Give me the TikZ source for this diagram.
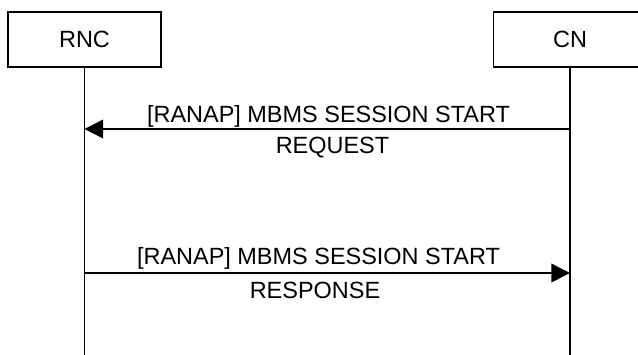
\documentclass[tikz,border=0pt]{standalone}
\usepackage{fontspec}
\setmainfont{Liberation Sans}
\usetikzlibrary{arrows.meta}
\begin{document}
\begin{tikzpicture}[x=0.75pt,y=-0.75pt,
  entity/.style={draw,line width=1.1pt,minimum width=114.75pt,minimum height=41.25pt,inner sep=0pt,font=\fontsize{17.6}{21}\selectfont},
  life/.style={line width=1.1pt},
  msg/.style={line width=1.1pt,-{Triangle[length=14pt,width=14pt]}},
  lbl/.style={anchor=base,inner sep=0pt,font=\fontsize{17.6}{21}\selectfont}]
\clip (0,0) rectangle (638,354);
\fill[white] (0,0) rectangle (638,354);
\node[entity] (rnc) at (84.5,39.5) {RNC};
\node[entity] (cn) at (570,39.5) {CN};
\coordinate (rncend) at (84.5,356);
\coordinate (cnend) at (570,356);
\draw[life] (rnc.south) -- (rncend);
\draw[life] (cn.south) -- (cnend);
\coordinate (m1s) at (570,129);
\coordinate (m1e) at (84.5,129);
\coordinate (m2s) at (84.5,273);
\coordinate (m2e) at (570,273);
\draw[msg] (m1s) -- (m1e);
\draw[msg] (m2s) -- (m2e);
\node[lbl] (l1a) at (328.5,122) {[RANAP] MBMS SESSION START};
\node[lbl] (l1b) at (332.5,153) {REQUEST};
\node[lbl] (l2a) at (318.5,264) {[RANAP] MBMS SESSION START};
\node[lbl] (l2b) at (315,298) {RESPONSE};
\end{tikzpicture}
\end{document}
